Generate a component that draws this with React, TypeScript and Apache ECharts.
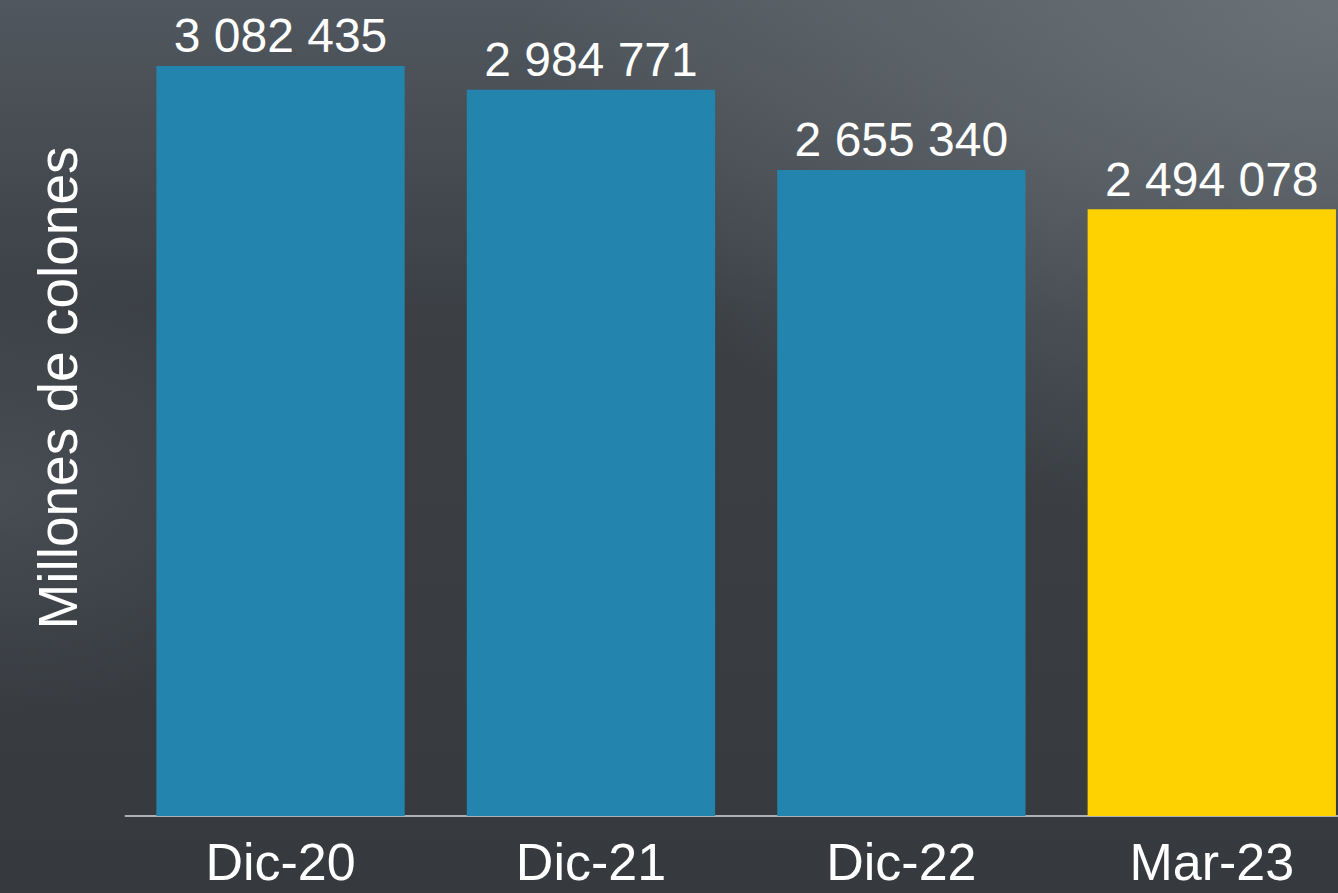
import React, { useEffect, useRef } from "react";
import * as echarts from "echarts";

const categories: string[] = ["Dic-20", "Dic-21", "Dic-22", "Mar-23"];
const values: number[] = [3082435, 2984771, 2655340, 2494078];
const highlighted: boolean[] = [false, false, false, true];
const yAxisTitle = "Millones de colones";

const FONT = "'Liberation Sans', Arial, Helvetica, sans-serif";
const BLUE = "#2385ae";
const YELLOW = "#fed200";

function fmt(v: number): string {
  return String(Math.round(v)).replace(/\B(?=(\d{3})+(?!\d))/g, " ");
}

export default function App() {
  const ref = useRef<HTMLDivElement>(null);
  useEffect(() => {
    if (!ref.current) return;
    const chart = echarts.init(ref.current, undefined, { renderer: "svg" });
    chart.setOption({
      animation: false,
      backgroundColor: new echarts.graphic.LinearGradient(0, 0, 0, 1, [
        { offset: 0, color: "#50575e" },
        { offset: 0.35, color: "#3c4045" },
        { offset: 1, color: "#36393d" },
      ]),
      graphic: [
        {
          type: "rect",
          z: -10,
          silent: true,
          shape: { x: 0, y: 0, width: 1367, height: 893 },
          style: {
            fill: new echarts.graphic.RadialGradient(0.98, 0, 0.6, [
              { offset: 0, color: "rgba(110,118,124,0.85)" },
              { offset: 1, color: "rgba(110,118,124,0)" },
            ]),
          },
        },
        {
          type: "rect",
          z: -10,
          silent: true,
          shape: { x: 0, y: 0, width: 1367, height: 893 },
          style: {
            fill: new echarts.graphic.RadialGradient(0.0, 0.55, 0.25, [
              { offset: 0, color: "rgba(80,87,94,0.6)" },
              { offset: 1, color: "rgba(80,87,94,0)" },
            ]),
          },
        },
        {
          type: "text",
          x: 58,
          y: 388,
          rotation: Math.PI / 2,
          style: {
            text: yAxisTitle,
            fill: "#ffffff",
            font: `55px ${FONT}`,
            align: "center",
            verticalAlign: "middle",
          },
        },
      ],
      grid: { left: 125.33, right: 0, top: 13.03, bottom: 77 },
      xAxis: {
        type: "category",
        data: categories,
        axisLine: { show: true, lineStyle: { color: "#d8d8d8", width: 1.5 } },
        axisTick: { show: false },
        axisLabel: {
          color: "#ffffff",
          fontSize: 52,
          lineHeight: 44,
          fontFamily: FONT,
          margin: 24,
        },
      },
      yAxis: {
        type: "value",
        min: 0,
        max: 3300000,
        show: false,
        splitLine: { show: false },
      },
      series: [
        {
          type: "bar",
          barCategoryGap: "20%",
          data: values.map((v, i) => ({
            value: v,
            itemStyle: { color: highlighted[i] ? YELLOW : BLUE },
          })),
          label: {
            show: true,
            position: "top",
            distance: 6,
            color: "#ffffff",
            fontSize: 48,
            fontFamily: FONT,
            formatter: (p: any) => fmt(p.value),
          },
        },
      ],
    });
    return () => chart.dispose();
  }, []);
  return (
    <div
      style={{
        position: "fixed",
        left: 0,
        top: 0,
        width: 1338,
        height: 893,
        overflow: "hidden",
      }}
    >
      <div ref={ref} style={{ width: 1367, height: 893 }} />
    </div>
  );
}
